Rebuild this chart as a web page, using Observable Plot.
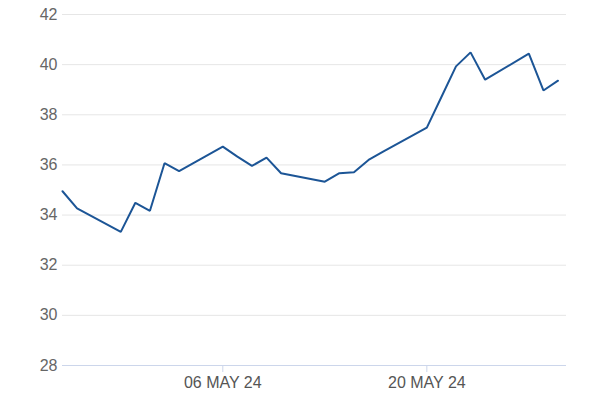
<!DOCTYPE html>
<html>
<head>
<meta charset="utf-8">
<script src="https://cdn.jsdelivr.net/npm/d3@7"></script>
<script src="https://cdn.jsdelivr.net/npm/@observablehq/plot@0.6"></script>
<style>
  body { margin: 0; background: #fff; }
  #chart svg { display: block; }
</style>
</head>
<body>
<div id="chart"></div>
<script>
const dates = [
  "2024-04-25","2024-04-26","2024-04-29","2024-04-30","2024-05-01","2024-05-02","2024-05-03",
  "2024-05-06","2024-05-07","2024-05-08","2024-05-09","2024-05-10",
  "2024-05-13","2024-05-14","2024-05-15","2024-05-16","2024-05-17",
  "2024-05-20","2024-05-21","2024-05-22","2024-05-23","2024-05-24",
  "2024-05-27","2024-05-28","2024-05-29"
];
const prices = [
  34.95, 34.27, 33.33, 34.49, 34.17, 36.07, 35.75,
  36.73, 36.33, 35.96, 36.29, 35.67,
  35.33, 35.67, 35.71, 36.20, 36.53,
  37.49, 38.71, 39.93, 40.49, 39.40,
  40.44, 38.97, 39.36
];
const yTicks = [28, 30, 32, 34, 36, 38, 40, 42];
const xTicks = ["2024-05-06", "2024-05-20"];
const xDomain = ["2024-04-25", "2024-05-29T14:00"];

const data = dates.map((d, i) => ({date: new Date(d + "T00:00"), value: prices[i]}));
const fmt = d3.timeFormat("%d %b %y");

const chart = Plot.plot({
  width: 600,
  height: 400,
  marginTop: 14,
  marginBottom: 35,
  marginLeft: 62,
  marginRight: 34,
  style: {fontFamily: "'Liberation Sans', Arial, sans-serif", fontSize: "16px", color: "#666"},
  x: {type: "time", domain: xDomain.map(d => new Date(d.includes("T") ? d : d + "T00:00"))},
  y: {domain: [28, 42]},
  marks: [
    Plot.gridY(yTicks, {stroke: "#e6e6e6", strokeOpacity: 1, strokeWidth: 1}),
    Plot.ruleY([28], {stroke: "#ccd6eb", strokeWidth: 1}),
    Plot.axisY(yTicks, {tickSize: 0, tickPadding: 5, fill: "#666", fontSize: 16, label: null}),
    Plot.axisX(xTicks.map(d => new Date(d + "T00:00")), {
      tickSize: 7, stroke: "#ccd6eb", tickPadding: 4, fill: "#555", fontSize: 16,
      tickFormat: d => fmt(d).toUpperCase(), label: null
    }),
    Plot.line(data, {x: "date", y: "value", stroke: "#1c5596", strokeWidth: 2, strokeLinejoin: "miter"})
  ]
});
document.getElementById("chart").appendChild(chart);
</script>
</body>
</html>
